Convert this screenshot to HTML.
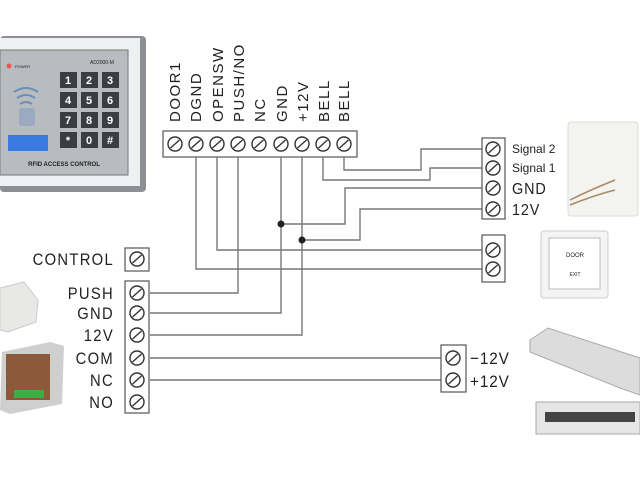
<!DOCTYPE html>
<html><head><style>
html,body{margin:0;padding:0;background:#fff;width:640px;height:480px;overflow:hidden}
svg{display:block}
.t{font-family:"Liberation Sans",sans-serif;fill:#222}
</style></head><body>
<svg width="640" height="480" viewBox="0 0 640 480" xmlns="http://www.w3.org/2000/svg">
<defs>
<g id="s"><circle r="7" fill="#fff" stroke="#333" stroke-width="1.4"/><line x1="-4.5" y1="4" x2="4.5" y2="-4" stroke="#333" stroke-width="1.4"/></g>
</defs>
<!-- keypad -->
<rect x="0" y="36" width="146" height="156" rx="4" fill="#8c8f94"/>
<rect x="0" y="38" width="140" height="148" fill="#eef0f2"/>
<rect x="0" y="50" width="128" height="125" fill="#b8bcc0" stroke="#777"/>
<circle cx="9" cy="66" r="2.5" fill="#e55"/>
<text x="15" y="68" font-size="4" fill="#a44" class="t">POWER</text>
<text x="90" y="64" font-size="5" class="t">AD2000-M</text>
<g fill="#3a3d42">
<rect x="60" y="72" width="17" height="16"/><rect x="81" y="72" width="17" height="16"/><rect x="102" y="72" width="17" height="16"/>
<rect x="60" y="92" width="17" height="16"/><rect x="81" y="92" width="17" height="16"/><rect x="102" y="92" width="17" height="16"/>
<rect x="60" y="112" width="17" height="16"/><rect x="81" y="112" width="17" height="16"/><rect x="102" y="112" width="17" height="16"/>
<rect x="60" y="132" width="17" height="16"/><rect x="81" y="132" width="17" height="16"/><rect x="102" y="132" width="17" height="16"/>
</g>
<g fill="#fff" font-size="11" font-weight="bold" font-family="Liberation Sans,sans-serif" text-anchor="middle">
<text x="68" y="84">1</text><text x="89" y="84">2</text><text x="110" y="84">3</text>
<text x="68" y="104">4</text><text x="89" y="104">5</text><text x="110" y="104">6</text>
<text x="68" y="124">7</text><text x="89" y="124">8</text><text x="110" y="124">9</text>
<text x="68" y="144">*</text><text x="89" y="144">0</text><text x="110" y="144">#</text>
</g>
<rect x="8" y="135" width="40" height="16" fill="#3a7be0"/>
<path d="M14 92 q12 -8 24 0 M17 98 q9 -6 18 0 M20 104 q6 -4 12 0" stroke="#6a8fb8" fill="none" stroke-width="2"/>
<rect x="19" y="108" width="16" height="18" rx="3" fill="#9aaac0"/>
<text x="64" y="166" font-size="6" font-weight="bold" text-anchor="middle" class="t">RFID ACCESS CONTROL</text>

<!-- top terminal -->
<rect x="163" y="131" width="194" height="26" fill="#fff" stroke="#555" stroke-width="1.2"/>
<g>
<use href="#s" x="175" y="144"/><use href="#s" x="196" y="144"/><use href="#s" x="217" y="144"/><use href="#s" x="238" y="144"/><use href="#s" x="259" y="144"/><use href="#s" x="281" y="144"/><use href="#s" x="302" y="144"/><use href="#s" x="323" y="144"/><use href="#s" x="344" y="144"/>
</g>
<g class="t" font-size="15" letter-spacing="1.5">
<text transform="translate(180,122) rotate(-90)">DOOR1</text>
<text transform="translate(201,122) rotate(-90)">DGND</text>
<text transform="translate(223,122) rotate(-90)">OPENSW</text>
<text transform="translate(244,122) rotate(-90)">PUSH/NO</text>
<text transform="translate(265,122) rotate(-90)">NC</text>
<text transform="translate(287,122) rotate(-90)">GND</text>
<text transform="translate(308,122) rotate(-90)">+12V</text>
<text transform="translate(329,122) rotate(-90)">BELL</text>
<text transform="translate(349,122) rotate(-90)">BELL</text>
</g>

<!-- wires -->
<g fill="none" stroke="#777" stroke-width="1.4">
<polyline points="196,157 196,269 483,269"/>
<polyline points="217,157 217,250 483,250"/>
<polyline points="238,157 238,293 150,293"/>
<polyline points="281,157 281,313 150,313"/>
<polyline points="302,157 302,335 150,335"/>
<polyline points="281,224 345,224 345,188 483,188"/>
<polyline points="302,240 360,240 360,209 483,209"/>
<polyline points="323,157 323,180 430,180 430,168 483,168"/>
<polyline points="344,157 344,170 421,170 421,149 483,149"/>
<polyline points="150,358 441,358"/>
<polyline points="150,380 441,380"/>
</g>
<circle cx="281" cy="224" r="3.5" fill="#222"/>
<circle cx="302" cy="240" r="3.5" fill="#222"/>

<!-- right blocks -->
<rect x="482" y="138" width="23" height="81" fill="#fff" stroke="#555" stroke-width="1.2"/>
<use href="#s" x="493" y="149"/><use href="#s" x="493" y="168"/><use href="#s" x="493" y="188"/><use href="#s" x="493" y="209"/>
<text x="512" y="153" font-size="12" class="t">Signal 2</text>
<text x="512" y="172" font-size="12" class="t">Signal 1</text>
<text x="512" y="194" font-size="16" letter-spacing="1" class="t" transform="translate(512,0) scale(0.9,1) translate(-512,0)">GND</text>
<text x="512" y="215" font-size="16" letter-spacing="1" class="t" transform="translate(512,0) scale(0.9,1) translate(-512,0)">12V</text>
<rect x="482" y="235" width="23" height="47" fill="#fff" stroke="#555" stroke-width="1.2"/>
<use href="#s" x="493" y="250"/><use href="#s" x="493" y="269"/>

<rect x="441" y="345" width="25" height="47" fill="#fff" stroke="#555" stroke-width="1.2"/>
<use href="#s" x="453" y="358"/><use href="#s" x="453" y="380"/>
<text x="470" y="364" font-size="17" letter-spacing="1" class="t" transform="translate(470,0) scale(0.9,1) translate(-470,0)">−12V</text>
<text x="470" y="387" font-size="17" letter-spacing="1" class="t" transform="translate(470,0) scale(0.9,1) translate(-470,0)">+12V</text>

<!-- left blocks -->
<rect x="125" y="248" width="24" height="23" fill="#fff" stroke="#555" stroke-width="1.2"/>
<use href="#s" x="137" y="259"/>
<rect x="125" y="281" width="24" height="132" fill="#fff" stroke="#555" stroke-width="1.2"/>
<use href="#s" x="137" y="293"/><use href="#s" x="137" y="313"/><use href="#s" x="137" y="335"/><use href="#s" x="137" y="358"/><use href="#s" x="137" y="380"/><use href="#s" x="137" y="402"/>
<g class="t" font-size="17" letter-spacing="1.5" text-anchor="end" transform="translate(114,0) scale(0.87,1) translate(-114,0)">
<text x="114" y="265">CONTROL</text>
<text x="114" y="299">PUSH</text>
<text x="114" y="319">GND</text>
<text x="114" y="341">12V</text>
<text x="114" y="364">COM</text>
<text x="114" y="386">NC</text>
<text x="114" y="408">NO</text>
</g>

<!-- photos -->
<polygon points="0,288 24,282 38,300 36,322 8,332 0,330" fill="#e8e8e6" stroke="#ccc"/>
<polygon points="2,352 50,342 64,346 62,404 10,414 0,410" fill="#cfcfcf"/>
<rect x="6" y="354" width="44" height="46" fill="#8a5a3a"/>
<rect x="14" y="390" width="30" height="8" fill="#4a4"/>
<rect x="568" y="122" width="70" height="94" rx="3" fill="#f3f3f0" stroke="#ddd"/>
<path d="M570 200 q20 -10 45 -20 M570 205 q25 -10 45 -15" stroke="#a86" fill="none" stroke-width="1.5"/>
<rect x="541" y="231" width="67" height="67" rx="3" fill="#f4f4f4" stroke="#ccc"/>
<rect x="549" y="238" width="51" height="51" fill="#fff" stroke="#bbb"/>
<text x="575" y="257" font-size="6" text-anchor="middle" class="t">DOOR</text>
<text x="575" y="276" font-size="5" text-anchor="middle" class="t">EXIT</text>
<polygon points="530,340 548,328 640,358 640,395 620,388 530,352" fill="#dcdcdc" stroke="#aaa"/>
<rect x="536" y="402" width="104" height="32" fill="#e6e6e6" stroke="#aaa"/>
<rect x="545" y="412" width="90" height="10" fill="#444"/>
</svg>
</body></html>
